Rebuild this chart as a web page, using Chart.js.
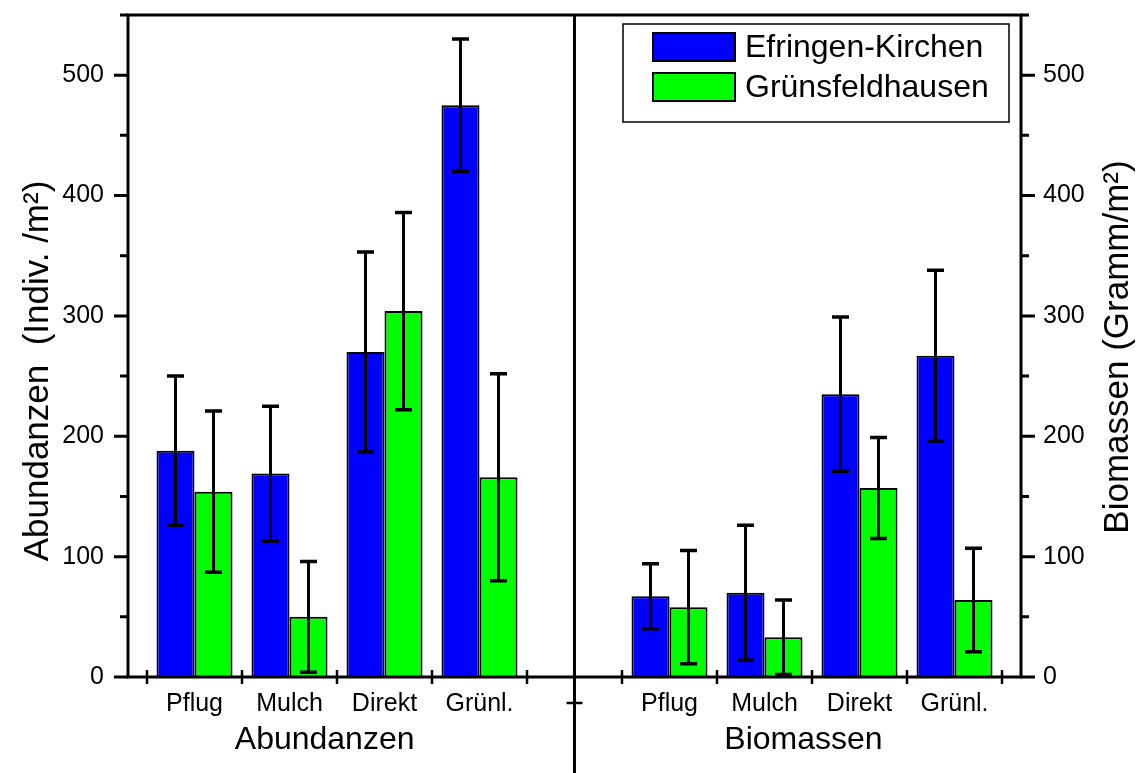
<!DOCTYPE html>
<html>
<head>
<meta charset="utf-8">
<script src="https://cdn.jsdelivr.net/npm/chart.js@4/dist/chart.umd.min.js"></script>
<style>
  html, body { margin: 0; padding: 0; background: #fff; }
  canvas { display: block; }
</style>
</head>
<body>
<canvas id="chart" width="1136" height="773"></canvas>
<script>
// Tillage practices (categories), shown once per panel
const practices = ['Pflug', 'Mulch', 'Direkt', 'Grünl.'];
const panelTitles = ['Abundanzen', 'Biomassen'];
const yTitles = ['Abundanzen  (Indiv. /m²)', 'Biomassen (Gramm/m²)'];
const seriesNames = ['Efringen-Kirchen', 'Grünsfeldhausen'];
const seriesColors = ['#0000ff', '#00ff00'];

// Abundance, individuals per m² (mean and error)
const abundEfringen    = [188, 169, 270, 475];
const abundEfringenErr = [62, 56, 83, 55];
const abundGruens      = [154, 50, 304, 166];
const abundGruensErr   = [67, 46, 82, 86];

// Biomass, gram per m² (mean and error)
const biomEfringen     = [67, 70, 235, 267];
const biomEfringenErr  = [27, 56, 64, 71];
const biomGruens       = [58, 33, 157, 64];
const biomGruensErr    = [47, 31, 42, 43];

// Value axis ticks (both sides share the same range)
const yTickValues = [0, 100, 200, 300, 400, 500];
const yMax = 550;

// Group centres on the shared linear x axis: left panel 0.5..3.5, right panel 5.5..8.5
const panelOffsets = [0.5, 5.5];
const dividerAt = 4.5;
const groupCenters = panelOffsets.flatMap(off => practices.map((_, i) => i + off));
const tickLabels = panelOffsets.flatMap(() => practices);

const FONT = '"Liberation Sans", Arial, Helvetica, sans-serif';

function barSet(seriesIdx, values, errors, panelIdx, axisId) {
  return {
    label: seriesNames[seriesIdx],
    stack: 'series' + seriesIdx,
    data: values.map((v, i) => ({ x: i + panelOffsets[panelIdx], y: v })),
    errors: errors,
    yAxisID: axisId,
    backgroundColor: seriesColors[seriesIdx],
    borderColor: '#000',
    borderWidth: 2,
    categoryPercentage: 0.8,
    barPercentage: 1.0,
    skipNull: true
  };
}

const datasets = [
  barSet(0, abundEfringen, abundEfringenErr, 0, 'y'),
  barSet(0, biomEfringen, biomEfringenErr, 1, 'y2'),
  barSet(1, abundGruens, abundGruensErr, 0, 'y'),
  barSet(1, biomGruens, biomGruensErr, 1, 'y2')
];

// Error bars, axis frame, tick marks, divider, titles and legend
const decorations = {
  id: 'decorations',
  afterDatasetsDraw(chart) {
    const ctx = chart.ctx;
    ctx.save();
    ctx.strokeStyle = '#000';
    ctx.lineCap = 'butt';
    chart.data.datasets.forEach((ds, di) => {
      const meta = chart.getDatasetMeta(di);
      const ys = chart.scales[ds.yAxisID];
      meta.data.forEach((el, j) => {
        const v = ds.data[j].y, e = ds.errors[j];
        const t = ys.getPixelForValue(v + e);
        const b = ys.getPixelForValue(v - e);
        ctx.lineWidth = 3;
        ctx.beginPath();
        ctx.moveTo(el.x, t); ctx.lineTo(el.x, b);
        ctx.stroke();
        ctx.lineWidth = 3.5;
        ctx.beginPath();
        ctx.moveTo(el.x - 8.5, t); ctx.lineTo(el.x + 8.5, t);
        ctx.moveTo(el.x - 8.5, b); ctx.lineTo(el.x + 8.5, b);
        ctx.stroke();
      });
    });
    ctx.restore();
  },
  afterDraw(chart) {
    const ctx = chart.ctx;
    const a = chart.chartArea;
    const xs = chart.scales.x;
    const ys = chart.scales.y;
    ctx.save();
    ctx.strokeStyle = '#000';
    ctx.fillStyle = '#000';

    // frame
    ctx.lineWidth = 3;
    ctx.strokeRect(a.left, a.top, a.right - a.left, a.bottom - a.top);

    // value-axis tick marks, major and minor, pointing outwards on both sides
    const step = yTickValues[1] - yTickValues[0];
    ctx.beginPath();
    for (let v = 0; v <= yMax + 0.001; v += step / 2) {
      const y = ys.getPixelForValue(v);
      const len = (v % step === 0) ? 14 : 8;
      ctx.moveTo(a.left, y); ctx.lineTo(a.left - len, y);
      ctx.moveTo(a.right, y); ctx.lineTo(a.right + len, y);
    }
    ctx.stroke();

    // category boundary ticks crossing the bottom axis
    ctx.lineWidth = 2.5;
    ctx.beginPath();
    panelOffsets.forEach(off => {
      for (let k = 0; k <= practices.length; k++) {
        const x = xs.getPixelForValue(off - 0.5 + k);
        ctx.moveTo(x, a.bottom - 7); ctx.lineTo(x, a.bottom + 7);
      }
    });
    ctx.stroke();

    // divider between the two panels
    const dx = xs.getPixelForValue(dividerAt);
    ctx.lineWidth = 3;
    ctx.beginPath();
    ctx.moveTo(dx, a.top); ctx.lineTo(dx, chart.height);
    ctx.stroke();
    ctx.lineWidth = 2.5;
    ctx.beginPath();
    ctx.moveTo(dx - 8, a.bottom + 26); ctx.lineTo(dx + 8, a.bottom + 26);
    ctx.stroke();

    // panel titles under the categories
    ctx.font = '32px ' + FONT;
    ctx.textAlign = 'center';
    ctx.textBaseline = 'middle';
    ctx.fillText(panelTitles[0], xs.getPixelForValue(1.87), a.bottom + 63);
    ctx.fillText(panelTitles[1], xs.getPixelForValue(6.91), a.bottom + 63);

    // legend
    const lw = 386, lh = 98;
    const lx = a.right - 12 - lw, ly = a.top + 9;
    ctx.lineWidth = 1.5;
    ctx.strokeRect(lx, ly, lw, lh);
    ctx.textAlign = 'left';
    seriesNames.forEach((name, i) => {
      const sy = ly + 9 + i * 40;
      ctx.fillStyle = seriesColors[i];
      ctx.fillRect(lx + 30, sy, 82, 28);
      ctx.lineWidth = 2;
      ctx.strokeRect(lx + 30, sy, 82, 28);
      ctx.fillStyle = '#000';
      ctx.fillText(name, lx + 122, sy + 15);
    });

    // axis titles, rotated
    ctx.font = '35px ' + FONT;
    ctx.textAlign = 'center';
    ctx.save();
    ctx.translate(38, 371);
    ctx.rotate(-Math.PI / 2);
    ctx.fillText(yTitles[0], 0, 0);
    ctx.restore();
    ctx.save();
    ctx.translate(1118, 347);
    ctx.rotate(-Math.PI / 2);
    ctx.fillText(yTitles[1], 0, 0);
    ctx.restore();

    ctx.restore();
  }
};

// scales keep no extra room for overhanging labels
const noOverhang = s => { s.paddingTop = 0; s.paddingBottom = 0; s.paddingLeft = 0; s.paddingRight = 0; };

const yAxisCommon = {
  type: 'linear',
  min: 0,
  max: yMax,
  stacked: false,
  grid: { display: false, drawTicks: false },
  border: { display: false },
  afterBuildTicks: s => { s.ticks = yTickValues.map(v => ({ value: v })); }
};

new Chart(document.getElementById('chart'), {
  type: 'bar',
  data: { datasets },
  plugins: [decorations],
  options: {
    responsive: false,
    animation: false,
    devicePixelRatio: 1,
    layout: { padding: { top: 15, left: 0, right: 0, bottom: 0 } },
    plugins: { legend: { display: false }, tooltip: { enabled: false } },
    scales: {
      x: {
        type: 'linear',
        min: -0.2,
        max: 9.2,
        offset: false,
        stacked: false,
        grid: { display: false, drawTicks: false, offset: false },
        border: { display: false },
        afterBuildTicks: s => { s.ticks = groupCenters.map(v => ({ value: v })); },
        ticks: {
          autoSkip: false,
          maxRotation: 0,
          padding: 12,
          color: '#000',
          font: { family: FONT, size: 25 },
          callback: (v, i) => tickLabels[i]
        },
        afterFit: s => { s.height = 96; noOverhang(s); }
      },
      y: Object.assign({}, yAxisCommon, {
        position: 'left',
        ticks: { padding: 24, color: '#000', font: { family: FONT, size: 25 } },
        afterFit: s => { s.width = 128; noOverhang(s); }
      }),
      y2: Object.assign({}, yAxisCommon, {
        position: 'right',
        ticks: { padding: 22, color: '#000', font: { family: FONT, size: 25 } },
        afterFit: s => { s.width = 115; noOverhang(s); }
      })
    }
  }
});
</script>
</body>
</html>
